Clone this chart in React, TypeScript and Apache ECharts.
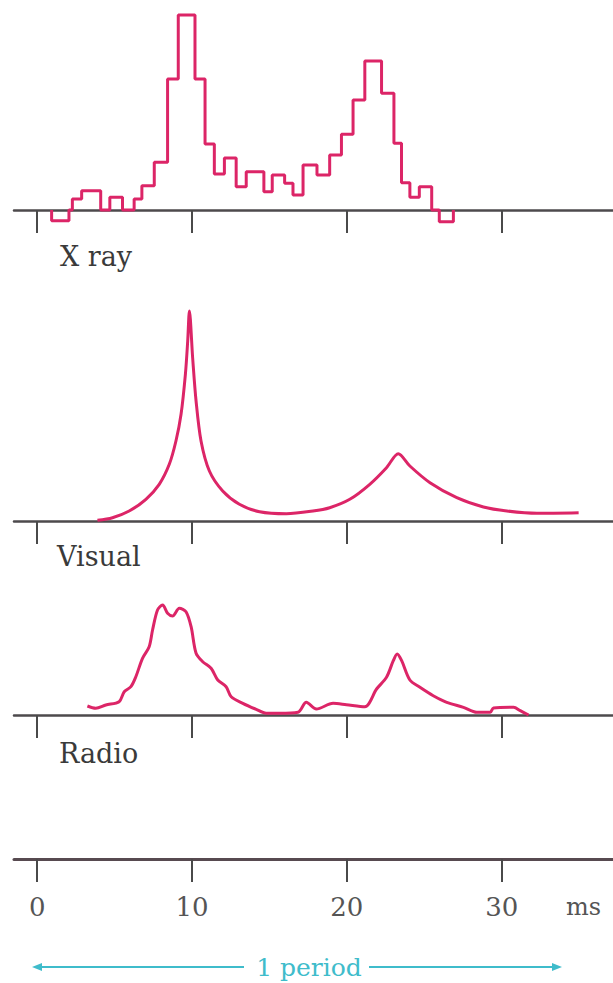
import React, { useEffect, useRef } from "react";
import * as echarts from "echarts";

// ---------- data (time in ms, flux in arbitrary units) ----------
const tickValues = [0, 10, 20, 30];

const xrayBinStart = [0.93, 2.05, 2.27, 2.87, 4.1, 4.69, 5.51, 6.26, 6.76, 7.56, 8.42, 9.11, 10.19, 10.84, 11.44, 12.09, 12.85, 13.5, 14.64, 15.18, 15.98, 16.52, 17.17, 18.07, 18.89, 19.65, 20.4, 21.16, 22.24, 23.04, 23.53, 24.07, 24.68, 25.48, 25.97, 26.88];
const xrayCounts = [-10.7, 0, 11, 19.3, 0, 12.7, 0, 11, 24.3, 47.7, 131, 195, 131, 66, 36, 52, 23.3, 38.3, 18.3, 35, 26.7, 15, 45, 35, 55, 75.7, 110, 149, 116.7, 66.7, 27.3, 12.7, 23.3, 0, -11.7, 0];

const visualTime = [3.89, 4.86, 5.94, 7.02, 7.88, 8.53, 8.96, 9.29, 9.57, 9.72, 9.83, 10.04, 10.26, 10.58, 11.12, 11.98, 13.06, 14.36, 16.09, 17.81, 18.89, 20.19, 21.48, 22.56, 23.32, 24.07, 25.37, 27.1, 28.82, 30.34, 32.28, 34.97];
const visualFlux = [0.7, 3.3, 10, 21.7, 36.7, 56.7, 80, 106.7, 146.7, 180, 210, 163, 120, 80, 50, 30, 16.7, 9.3, 7.3, 10, 13.3, 21.7, 36.7, 53.3, 67.3, 55, 38.3, 23.3, 14, 10, 7.7, 8.3];

const radioTime = [3.24, 3.78, 4.43, 5.29, 5.62, 6.05, 6.37, 6.8, 7.23, 7.45, 7.77, 8.1, 8.42, 8.74, 9.18, 9.61, 9.94, 10.26, 10.69, 11.23, 11.66, 12.2, 12.53, 13.28, 14.14, 14.79, 15.65, 16.84, 17.38, 18.03, 19.11, 19.97, 21.16, 21.92, 22.56, 23.0, 23.25, 23.54, 24.07, 24.72, 25.58, 26.45, 27.53, 28.39, 29.26, 29.47, 30.77, 31.2, 31.74];
const radioFlux = [9, 6.7, 10, 13.3, 23.3, 28.3, 38.3, 56.7, 68.3, 85, 105, 110, 101.7, 99, 106.7, 103.3, 88.3, 61.7, 53.3, 46.7, 35, 28.3, 18.3, 11.7, 5.7, 1.7, 1.7, 2.7, 12.7, 6, 11.7, 10.3, 8.3, 26, 37.7, 54.3, 61, 54.3, 35, 27.7, 19.3, 12.7, 7.7, 2.7, 2.7, 7, 7.7, 4.3, 0];

const panelLabels = ["X ray", "Visual", "Radio"];
const unitLabel = "ms";
const periodLabel = "1 period";

const CURVE = "#dc2567";
const AXIS = "#4d4a4c";
const CYAN = "#3fbccb";
const SERIF = "DejaVu Serif";

export default function App() {
  const ref = useRef<HTMLDivElement>(null);

  useEffect(() => {
    if (!ref.current) return;
    const chart = echarts.init(ref.current, null, { renderer: "svg" });

    const xrayData: number[][] = [[xrayBinStart[0], 0]];
    xrayBinStart.forEach((t, i) => xrayData.push([t, xrayCounts[i]]));
    const visualData = visualTime.map((t, i) => [t, visualFlux[i]]);
    const radioData = radioTime.map((t, i) => [t, radioFlux[i]]);

    const panels = [
      { top: 0, height: 240, min: -30, max: 210 },
      { top: 291, height: 260, min: -30, max: 230 },
      { top: 585, height: 160, min: -30, max: 130 },
      { top: 829, height: 60, min: -30, max: 30 },
    ];

    const grid = panels.map((p) => ({ left: 14, right: 0, top: p.top, height: p.height }));
    const xAxis = panels.map((p, i) => ({
      type: "value",
      gridIndex: i,
      min: -1.5,
      max: 37.19,
      splitLine: { show: false },
      axisLine: {
        show: true,
        onZero: true,
        lineStyle: { color: i === 3 ? "#574a50" : AXIS, width: i === 3 ? 3 : 2.5 },
      },
      axisTick: {
        show: true,
        customValues: tickValues,
        length: 23,
        inside: false,
        lineStyle: { color: "#4a4a4a", width: 2 },
      },
      axisLabel: {
        show: i === 3,
        customValues: tickValues,
        margin: 18,
        verticalAlign: "middle",
        color: "#555",
        fontFamily: SERIF,
        fontSize: 26,
      },
    }));
    const yAxis = panels.map((p, i) => ({
      type: "value",
      gridIndex: i,
      min: p.min,
      max: p.max,
      show: false,
    }));

    const lineCommon = {
      type: "line",
      showSymbol: false,
      symbol: "none",
      lineStyle: { color: CURVE, width: 3 },
      silent: true,
    };

    const graphicTexts = [
      { x: 60, y: 256 },
      { x: 57, y: 556 },
      { x: 59, y: 753 },
    ].map((pos, i) => ({
      type: "text",
      x: pos.x,
      y: pos.y,
      style: {
        text: panelLabels[i],
        fill: "#3a3a3a",
        fontFamily: SERIF,
        fontSize: 27,
        verticalAlign: "middle",
      },
    }));

    chart.setOption({
      animation: false,
      grid,
      xAxis,
      yAxis,
      series: [
        { ...lineCommon, xAxisIndex: 0, yAxisIndex: 0, step: "end", data: xrayData },
        { ...lineCommon, xAxisIndex: 1, yAxisIndex: 1, smooth: 0.3, data: visualData },
        { ...lineCommon, xAxisIndex: 2, yAxisIndex: 2, smooth: 0.3, data: radioData },
        { type: "line", xAxisIndex: 3, yAxisIndex: 3, data: [] },
      ],
      graphic: [
        ...graphicTexts,
        {
          type: "text",
          x: 566,
          y: 907,
          style: { text: unitLabel, fill: "#555", fontFamily: SERIF, fontSize: 24, verticalAlign: "middle" },
        },
        { type: "line", shape: { x1: 38, y1: 967, x2: 244, y2: 967 }, style: { stroke: CYAN, lineWidth: 2 } },
        { type: "line", shape: { x1: 369, y1: 967, x2: 556, y2: 967 }, style: { stroke: CYAN, lineWidth: 2 } },
        { type: "polygon", shape: { points: [[32, 967], [42, 963], [42, 971]] }, style: { fill: CYAN } },
        { type: "polygon", shape: { points: [[562, 967], [552, 963], [552, 971]] }, style: { fill: CYAN } },
        {
          type: "text",
          x: 309,
          y: 967,
          style: {
            text: periodLabel,
            fill: CYAN,
            fontFamily: SERIF,
            fontSize: 25,
            align: "center",
            verticalAlign: "middle",
          },
        },
      ],
    });

    return () => chart.dispose();
  }, []);

  return (
    <div
      ref={ref}
      style={{ position: "fixed", left: 0, top: 0, width: 613, height: 983, background: "#fff" }}
    />
  );
}
